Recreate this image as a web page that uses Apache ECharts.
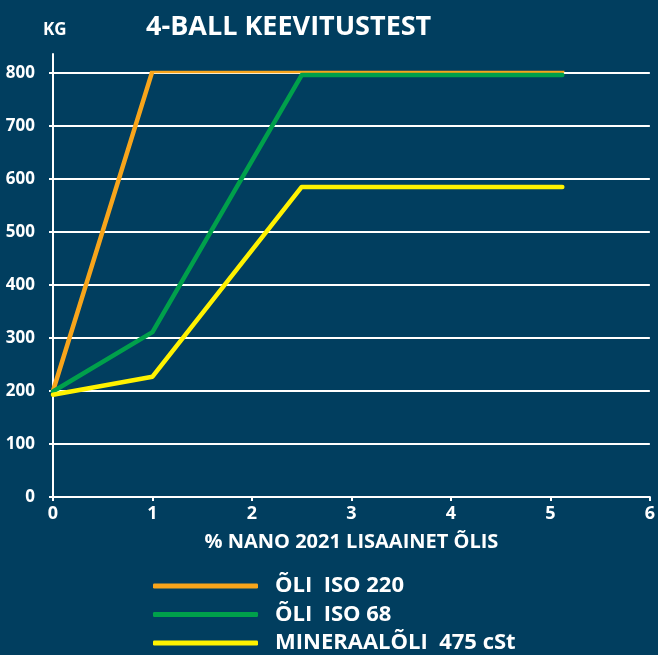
<!DOCTYPE html>
<html>
<head>
<meta charset="utf-8">
<script src="https://cdn.jsdelivr.net/npm/echarts@6/dist/echarts.min.js"></script>
<style>
  html, body { margin: 0; padding: 0; background: #013e5f; }
  #chart { width: 658px; height: 655px; }
</style>
</head>
<body>
<div id="chart"></div>
<script>
// % NANO 2021 additive in oil (x) vs weld load in kg (y)
const seriesNames = ['ÕLI  ISO 220', 'ÕLI  ISO 68', 'MINERAALÕLI  475 cSt'];
const iso220X = [0, 1, 5.12];
const iso220Y = [200, 804, 804];
const iso68X = [0, 1, 2.5, 5.12];
const iso68Y = [199, 311, 796, 796];
const mineralX = [0, 1, 2.5, 5.12];
const mineralY = [193, 227, 585, 585];
const colors = ['#f8a51b', '#00a04b', '#fff200'];

const zip = (xs, ys) => xs.map((x, i) => [x, ys[i]]);

const font = '"Open Sans", sans-serif';
const white = '#ffffff';

const chart = echarts.init(document.getElementById('chart'));

chart.setOption({
  backgroundColor: '#013e5f',
  animation: false,
  title: [
    {
      text: '4-BALL KEEVITUSTEST',
      left: 141,
      top: 9,
      textStyle: { color: white, fontFamily: font, fontWeight: 'bold', fontSize: 27 }
    },
    {
      text: 'KG',
      left: 38,
      top: 17,
      textStyle: { color: white, fontFamily: font, fontWeight: 'bold', fontSize: 17 }
    }
  ],
  grid: [
    { left: 53, right: 2, top: 73, bottom: 158 },
    { left: 53, right: 2, top: 54, bottom: 158 }
  ],
  xAxis: [
    {
      type: 'value',
      gridIndex: 0,
      min: 0,
      max: 6,
      interval: 1,
      name: '% NANO 2021 LISAAINET ÕLIS',
      nameLocation: 'middle',
      nameGap: 35,
      nameTextStyle: { color: white, fontFamily: font, fontWeight: 'bold', fontSize: 20 },
      axisLine: { lineStyle: { color: white, width: 2 } },
      axisTick: { length: 4, lineStyle: { color: white, width: 2 } },
      axisLabel: { color: white, fontFamily: font, fontWeight: 'bold', fontSize: 18, margin: 8 },
      splitLine: { show: false }
    },
    { type: 'value', gridIndex: 1, min: 0, max: 6, show: false }
  ],
  yAxis: [
    {
      type: 'value',
      gridIndex: 0,
      min: 0,
      max: 800,
      interval: 100,
      axisLine: { show: true, lineStyle: { color: white, width: 2 } },
      axisTick: { show: true, length: 4, lineStyle: { color: white, width: 2 } },
      axisLabel: { color: white, fontFamily: font, fontWeight: 'bold', fontSize: 17, margin: 18 },
      splitLine: { show: true, lineStyle: { color: white, width: 2 } }
    },
    {
      type: 'value',
      gridIndex: 1,
      min: 0,
      max: 1,
      axisLine: { show: true, lineStyle: { color: white, width: 2 } },
      axisTick: { show: false },
      axisLabel: { show: false },
      splitLine: { show: false }
    }
  ],
  legend: {
    orient: 'vertical',
    left: 153,
    top: 575,
    padding: 0,
    height: 140,
    itemWidth: 105,
    itemHeight: 5,
    itemGap: 6.5,
    icon: 'roundRect',
    textStyle: { color: white, fontFamily: font, fontWeight: 'bold', fontSize: 22, lineHeight: 20, padding: [0, 0, 0, 12] },
    data: seriesNames
  },
  series: [
    { name: seriesNames[0], data: zip(iso220X, iso220Y), color: colors[0] },
    { name: seriesNames[1], data: zip(iso68X, iso68Y), color: colors[1] },
    { name: seriesNames[2], data: zip(mineralX, mineralY), color: colors[2] }
  ].map(s => ({
    type: 'line',
    name: s.name,
    data: s.data,
    xAxisIndex: 0,
    yAxisIndex: 0,
    symbol: 'none',
    itemStyle: { color: s.color },
    lineStyle: { color: s.color, width: 4.5, cap: 'round', join: 'round' }
  }))
});
</script>
</body>
</html>
